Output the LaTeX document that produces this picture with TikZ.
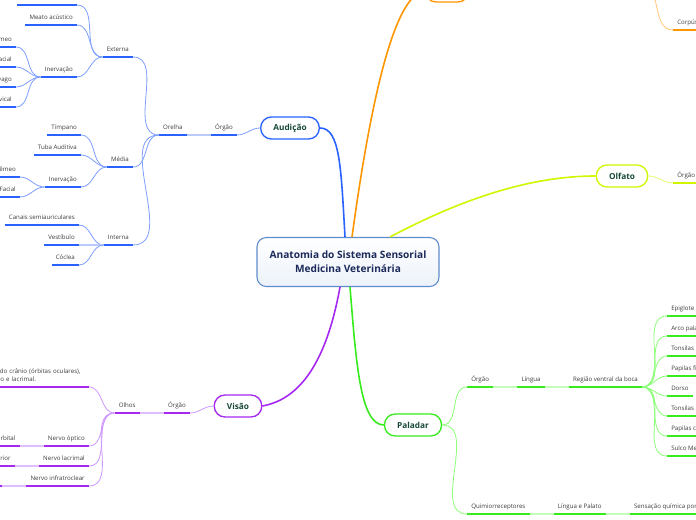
\documentclass[tikz,border=0pt]{standalone}
\usepackage{fontspec}
\setmainfont{Open Sans}
\usetikzlibrary{positioning}
\definecolor{coreblue}{RGB}{95, 140, 205}
\definecolor{coreshade}{RGB}{236, 242, 250}
\definecolor{titlenavy}{RGB}{27, 42, 90}
\definecolor{sensegreen}{RGB}{22, 72, 56}
\definecolor{inkgray}{RGB}{60, 60, 60}
\definecolor{audblue}{RGB}{41, 98, 255}
\definecolor{audlight}{RGB}{125, 158, 255}
\definecolor{audpale}{RGB}{185, 203, 255}
\definecolor{visviolet}{RGB}{165, 40, 240}
\definecolor{vislight}{RGB}{205, 150, 255}
\definecolor{vispale}{RGB}{222, 190, 255}
\definecolor{palgreen}{RGB}{55, 235, 30}
\definecolor{pallight}{RGB}{140, 255, 120}
\definecolor{palpale}{RGB}{195, 255, 185}
\definecolor{olfyellow}{RGB}{210, 245, 0}
\definecolor{olflight}{RGB}{225, 250, 110}
\definecolor{tatorange}{RGB}{255, 150, 0}
\definecolor{tatlight}{RGB}{255, 200, 120}
\newcommand\leaffont{\fontsize{4.6}{6}\selectfont}

\begin{document}
\begin{tikzpicture}[x=0.75pt, y=-0.75pt,
    core/.style={draw=coreblue, line width=0.8pt, rounded corners=7pt, top color=white, bottom color=coreshade, minimum width=136.5pt, minimum height=36.75pt, align=center, text=titlenavy, font=\bfseries\fontsize{7.6}{10.5}\selectfont},
    sense/.style={draw=#1, line width=1pt, rounded corners=8pt, fill=white, minimum height=16.5pt, inner xsep=9.5pt, text=sensegreen, font=\bfseries\fontsize{6.2}{7}\selectfont},
    leaf/.style={font=\leaffont, text=inkgray, inner xsep=3pt, inner ysep=3pt, text height=3.4pt, text depth=1pt},
    ul/.style={append after command={(\tikzlastnode.south west) edge[draw=#1, line width=1.1pt] (\tikzlastnode.south east)}},
    limb/.style={draw=#1, line width=1.2pt},
    twig/.style={draw=#1, line width=0.6pt},
    link/.style={draw=#1, line width=1.1pt}]
    \useasboundingbox (0,0) rectangle (696,520);
    \clip (0,0) rectangle (696,520);

    % Centre
    \node[core] (core) at (348,262) {Anatomia do Sistema Sensorial\\Medicina Veterinária};

    % Audição
    \node[sense=audblue] (aud) at (290,128) {Audição};
    \node[leaf, ul=audblue, anchor=south east] (aorg) at (237,135) {Órgão};
    \node[leaf, ul=audblue, left=18pt of aorg] (orelha) {Orelha};
    \node[leaf, ul=audblue, anchor=south east] (externa) at (133,57) {Externa};
    \node[leaf, ul=audblue, anchor=south east] (media) at (133,167) {Média};
    \node[leaf, ul=audblue, anchor=south east] (interna) at (133,245) {Interna};
    \node[leaf, ul=audblue, anchor=south east] (pavilhao) at (77,5) {Pavilhão auricular};
    \node[leaf, ul=audblue, anchor=south east] (meato) at (77,25) {Meato acústico};
    \node[leaf, ul=audblue, anchor=south east] (extinerv) at (77,77) {Inervação};
    \node[leaf, ul=audblue, anchor=south east] (trigext) at (16,47) {Nervo trigêmeo};
    \node[leaf, ul=audblue, anchor=south east] (facext) at (16,67) {Nervo facial};
    \node[leaf, ul=audblue, anchor=south east] (vagoext) at (16,87) {Nervo vago};
    \node[leaf, ul=audblue, anchor=south east] (cervext) at (16,107) {Plexo cervical};
    \node[leaf, ul=audblue, anchor=south east] (timpano) at (81,135) {Tímpano};
    \node[leaf, ul=audblue, anchor=south east] (tuba) at (81,155) {Tuba Auditiva};
    \node[leaf, ul=audblue, anchor=south east] (medinerv) at (81,187) {Inervação};
    \node[leaf, ul=audblue, anchor=south east] (trigmed) at (20,177) {Nervo Trigêmeo};
    \node[leaf, ul=audblue, anchor=south east] (facmed) at (20,197) {Nervo Facial};
    \node[leaf, ul=audblue, anchor=south east] (canais) at (79,225) {Canais semiauriculares};
    \node[leaf, ul=audblue, anchor=south east] (vestibulo) at (79,245) {Vestíbulo};
    \node[leaf, ul=audblue, anchor=south east] (coclea) at (79,265) {Cóclea};

    \draw[limb=audblue] ([xshift=-2.25pt]core.north) .. controls +(-4,-70) and +(20,0) .. (aud.east);
    \draw[twig=audlight] (aud.west) to[out=180, in=0] (aorg.south east);
    \draw[link=audpale] (orelha.south east) -- (aorg.south west);
    \draw[twig=audlight] (orelha.south west) to[out=180, in=0] (externa.south east);
    \draw[twig=audlight] (orelha.south west) to[out=180, in=0] (media.south east);
    \draw[twig=audlight] (orelha.south west) to[out=180, in=0] (interna.south east);
    \draw[twig=audlight] (externa.south west) to[out=180, in=0] (pavilhao.south east);
    \draw[twig=audlight] (externa.south west) to[out=180, in=0] (meato.south east);
    \draw[twig=audlight] (externa.south west) to[out=180, in=0] (extinerv.south east);
    \draw[twig=audlight] (extinerv.south west) to[out=180, in=0] (trigext.south east);
    \draw[twig=audlight] (extinerv.south west) to[out=180, in=0] (facext.south east);
    \draw[twig=audlight] (extinerv.south west) to[out=180, in=0] (vagoext.south east);
    \draw[twig=audlight] (extinerv.south west) to[out=180, in=0] (cervext.south east);
    \draw[twig=audlight] (media.south west) to[out=180, in=0] (timpano.south east);
    \draw[twig=audlight] (media.south west) to[out=180, in=0] (tuba.south east);
    \draw[twig=audlight] (media.south west) to[out=180, in=0] (medinerv.south east);
    \draw[twig=audlight] (medinerv.south west) to[out=180, in=0] (trigmed.south east);
    \draw[twig=audlight] (medinerv.south west) to[out=180, in=0] (facmed.south east);
    \draw[twig=audlight] (interna.south west) to[out=180, in=0] (canais.south east);
    \draw[link=audpale] (interna.south west) -- (vestibulo.south east);
    \draw[twig=audlight] (interna.south west) to[out=180, in=0] (coclea.south east);

    % Visão
    \node[sense=visviolet] (vis) at (238,406) {Visão};
    \node[leaf, ul=visviolet, anchor=south east] (vorg) at (190,413) {Órgão};
    \node[leaf, ul=visviolet, left=18pt of vorg] (olhos) {Olhos};
    \node[font=\leaffont, text=inkgray, align=left, text width=137pt, inner xsep=3pt, inner ysep=3pt, ul=visviolet, anchor=south east] (olhodesc) at (89,387) {Localizados em cavidades ósseas do crânio (órbitas oculares),\\Protegidos por pálpebras, aparelho e lacrimal.};
    \node[leaf, ul=visviolet, anchor=south east] (nopt) at (89,446) {Nervo óptico};
    \node[leaf, ul=visviolet, left=18pt of nopt] (canal) {Forame orbital};
    \node[leaf, ul=visviolet, anchor=south east] (nlac) at (89,466) {Nervo lacrimal};
    \node[leaf, ul=visviolet, left=18pt of nlac] (fissura) {Fissura orbital superior};
    \node[leaf, ul=visviolet, anchor=south east] (ninfra) at (89,486) {Nervo infratroclear};
    \coordinate (ninfnext) at ([xshift=-18pt]ninfra.south west);

    \draw[limb=visviolet] ([xshift=-6pt]core.south) .. controls +(-15,83) and +(33,-6) .. (vis.east);
    \draw[twig=vislight] (vis.west) to[out=180, in=0] (vorg.south east);
    \draw[link=vispale] (olhos.south east) -- (vorg.south west);
    \draw[twig=vislight] (olhos.south west) to[out=180, in=0] (olhodesc.south east);
    \draw[twig=vislight] (olhos.south west) to[out=180, in=0] (nopt.south east);
    \draw[twig=vislight] (olhos.south west) to[out=180, in=0] (nlac.south east);
    \draw[twig=vislight] (olhos.south west) to[out=180, in=0] (ninfra.south east);
    \draw[link=vispale] (nopt.south west) -- (canal.south east);
    \draw[link=vispale] (nlac.south west) -- (fissura.south east);
    \draw[link=vispale] (ninfra.south west) -- (ninfnext);
    \draw[visviolet, line width=1.1pt] (ninfnext) -- ++(-10,0);

    % Paladar
    \node[sense=palgreen] (pal) at (413,425) {Paladar};
    \node[leaf, ul=palgreen, anchor=south west] (porg) at (467,387) {Órgão};
    \node[leaf, ul=palgreen, right=18pt of porg] (lingua) {Língua};
    \node[leaf, ul=palgreen, right=18pt of lingua] (regiao) {Região ventral da boca};
    \node[leaf, ul=palgreen, anchor=south west] (epiglote) at (667,316) {Epiglote};
    \node[leaf, ul=palgreen, anchor=south west] (arco) at (667,336) {Arco palatoglosso};
    \node[leaf, ul=palgreen, anchor=south west] (tonpal) at (667,356) {Tonsilas palatinas};
    \node[leaf, ul=palgreen, anchor=south west] (papfil) at (667,376) {Papilas filiformes};
    \node[leaf, ul=palgreen, anchor=south west] (dorso) at (667,396) {Dorso};
    \node[leaf, ul=palgreen, anchor=south west] (tonlin) at (667,416) {Tonsilas linguais};
    \node[leaf, ul=palgreen, anchor=south west] (papcir) at (667,436) {Papilas circunvaladas};
    \node[leaf, ul=palgreen, anchor=south west] (sulco) at (667,456) {Sulco Mediano};
    \node[leaf, ul=palgreen, anchor=south west] (quimio) at (467,514) {Quimiorreceptores};
    \node[leaf, ul=palgreen, right=18pt of quimio] (lingpal) {Língua e Palato};
    \node[leaf, ul=palgreen, right=18pt of lingpal] (sensacao) {Sensação química por contato};

    \draw[limb=palgreen] ([xshift=1.5pt]core.south) .. controls +(6,73) and +(-24,0) .. (pal.west);
    \draw[twig=pallight] (pal.east) to[out=0, in=180] (porg.south west);
    \draw[twig=pallight] (pal.east) to[out=0, in=180] (quimio.south west);
    \draw[link=palpale] (porg.south east) -- (lingua.south west);
    \draw[link=palpale] (lingua.south east) -- (regiao.south west);
    \draw[link=palpale] (quimio.south east) -- (lingpal.south west);
    \draw[link=palpale] (lingpal.south east) -- (sensacao.south west);
    \draw[twig=pallight] (regiao.south east) to[out=0, in=180] (epiglote.south west);
    \draw[twig=pallight] (regiao.south east) to[out=0, in=180] (arco.south west);
    \draw[twig=pallight] (regiao.south east) to[out=0, in=180] (tonpal.south west);
    \draw[twig=pallight] (regiao.south east) to[out=0, in=180] (papfil.south west);
    \draw[twig=pallight] (regiao.south east) to[out=0, in=180] (dorso.south west);
    \draw[twig=pallight] (regiao.south east) to[out=0, in=180] (tonlin.south west);
    \draw[twig=pallight] (regiao.south east) to[out=0, in=180] (papcir.south west);
    \draw[twig=pallight] (regiao.south east) to[out=0, in=180] (sulco.south west);

    % Olfato
    \node[sense=olfyellow] (olf) at (622,176) {Olfato};
    \node[leaf, ul=olfyellow, anchor=south west] (oorg) at (673,183) {Órgão};
    \draw[limb=olfyellow] ([xshift=31.5pt]core.north) .. controls +(70,-37) and +(-67,0) .. (olf.west);
    \draw[twig=olflight] (olf.east) to[out=0, in=180] (oorg.south west);

    % Tato
    \node[sense=tatorange] (tato) at (447,-9) {Tato};
    \coordinate (tatopele) at (640,-18);
    \node[leaf, ul=tatorange, anchor=south west] (corp) at (673,30) {Corpúsculos sensoriais};
    \draw[limb=tatorange] ([xshift=3pt]core.north) .. controls +(16,-117) and +(-33,3) .. (tato.west);
    \draw[twig=tatlight] (tatopele) to[out=0, in=180] (corp.south west);
\end{tikzpicture}
\end{document}
